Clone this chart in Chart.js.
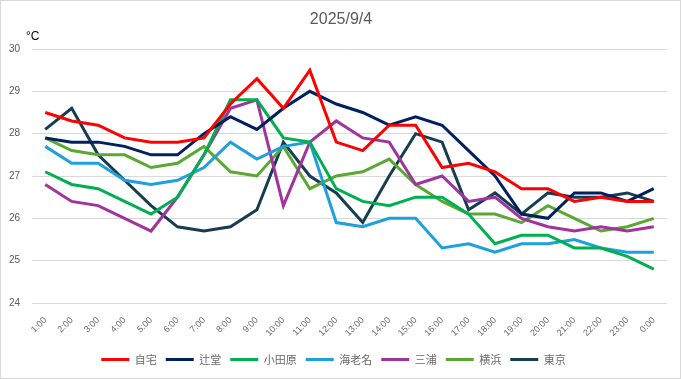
<!DOCTYPE html>
<html>
<head>
<meta charset="utf-8">
<script src="https://cdn.jsdelivr.net/npm/chart.js@4/dist/chart.umd.min.js"></script>
<style>
html,body{margin:0;padding:0;background:#fff;}
#wrap{position:relative;width:681px;height:379px;}
</style>
</head>
<body>
<div id="wrap"><canvas id="c" width="681" height="379"></canvas></div>
<script>
const hours = ["1:00","2:00","3:00","4:00","5:00","6:00","7:00","8:00","9:00","10:00","11:00","12:00","13:00","14:00","15:00","16:00","17:00","18:00","19:00","20:00","21:00","22:00","23:00","0:00"];
const jitaku   = [28.5,28.3,28.2,27.9,27.8,27.8,27.9,28.7,29.3,28.6,29.5,27.8,27.6,28.2,28.2,27.2,27.3,27.1,26.7,26.7,26.4,26.5,26.4,26.4];
const tsujido  = [27.9,27.8,27.8,27.7,27.5,27.5,28.0,28.4,28.1,28.6,29.0,28.7,28.5,28.2,28.4,28.2,27.6,27.0,26.1,26.0,26.6,26.6,26.4,26.7];
const odawara  = [27.1,26.8,26.7,26.4,26.1,26.5,27.5,28.8,28.8,27.9,27.8,26.7,26.4,26.3,26.5,26.5,26.1,25.4,25.6,25.6,25.3,25.3,25.1,24.8];
const ebina    = [27.7,27.3,27.3,26.9,26.8,26.9,27.2,27.8,27.4,27.7,27.8,25.9,25.8,26.0,26.0,25.3,25.4,25.2,25.4,25.4,25.5,25.3,25.2,25.2];
const miura    = [26.8,26.4,26.3,26.0,25.7,26.5,27.5,28.6,28.8,26.3,27.8,28.3,27.9,27.8,26.8,27.0,26.4,26.5,26.0,25.8,25.7,25.8,25.7,25.8];
const yokohama = [27.9,27.6,27.5,27.5,27.2,27.3,27.7,27.1,27.0,27.7,26.7,27.0,27.1,27.4,26.8,26.4,26.1,26.1,25.9,26.3,26.0,25.7,25.8,26.0];
const tokyo    = [28.1,28.6,27.5,26.9,26.3,25.8,25.7,25.8,26.2,27.8,27.0,26.6,25.9,27.0,28.0,27.8,26.2,26.6,26.1,26.6,26.5,26.5,26.6,26.4];
const seriesNames = ["自宅","辻堂","小田原","海老名","三浦","横浜","東京"];
const seriesColors = ["#ff0000","#002060","#00b050","#1ea0dc","#a0339e","#5aa832","#173d50"];
const seriesData = [jitaku,tsujido,odawara,ebina,miura,yokohama,tokyo];
const yTicks = [24,25,26,27,28,29,30];

const deco = {
  id:'deco',
  afterDraw(chart){
    const ctx = chart.ctx;
    ctx.save();
    ctx.strokeStyle = '#d9d9d9';
    ctx.lineWidth = 1;
    ctx.strokeRect(0.5,0.5,680,378);
    ctx.fillStyle = '#595959';
    ctx.font = '16px "Liberation Sans", Arial, sans-serif';
    ctx.textAlign = 'center';
    ctx.textBaseline = 'middle';
    ctx.fillText('2025/9/4', 341, 20);
    ctx.fillStyle = '#000000';
    ctx.font = '12px "Liberation Sans", Arial, sans-serif';
    ctx.textAlign = 'left';
    ctx.fillText('°C', 26, 37);
    ctx.restore();
  }
};

new Chart(document.getElementById('c'), {
  type: 'line',
  data: {
    labels: hours,
    datasets: seriesNames.map((n,i)=>({
      label: n,
      data: seriesData[i],
      borderColor: seriesColors[i],
      backgroundColor: seriesColors[i],
      borderWidth: 3,
      pointRadius: 0,
      pointStyle: 'line',
      tension: 0,
      fill: false
    }))
  },
  options: {
    responsive: false,
    animation: false,
    layout: { padding: { top: 49, right: 14, bottom: 4, left: 0 } },
    plugins: {
      title: { display: false },
      tooltip: { enabled: false },
      legend: {
        position: 'bottom',
        labels: {
          usePointStyle: true,
          pointStyle: 'line',
          pointStyleWidth: 28,
          boxWidth: 28,
          boxHeight: 11,
          padding: 9,
          color: '#6a6a6a',
          font: { size: 11, family: '"Noto Sans CJK JP", sans-serif' }
        }
      }
    },
    scales: {
      x: {
        offset: true,
        grid: { display: false },
        border: { display: false },
        ticks: {
          color: '#6a6a6a',
          font: { size: 9, family: '"Liberation Sans", Arial, sans-serif' },
          maxRotation: 45, minRotation: 45, autoSkip: false, padding: 4
        },
        afterFit(scale){ scale.height = 42; }
      },
      y: {
        min: 24, max: 30,
        afterBuildTicks(scale){ scale.ticks = yTicks.map(v=>({value:v})); },
        grid: { color: '#d9d9d9', drawTicks: false, lineWidth: 1 },
        border: { display: false },
        ticks: {
          color: '#595959',
          padding: 12,
          font: { size: 10, family: '"Liberation Sans", Arial, sans-serif' }
        },
        afterFit(scale){ scale.width = 32; }
      }
    }
  },
  plugins: [deco]
});
</script>
</body>
</html>
